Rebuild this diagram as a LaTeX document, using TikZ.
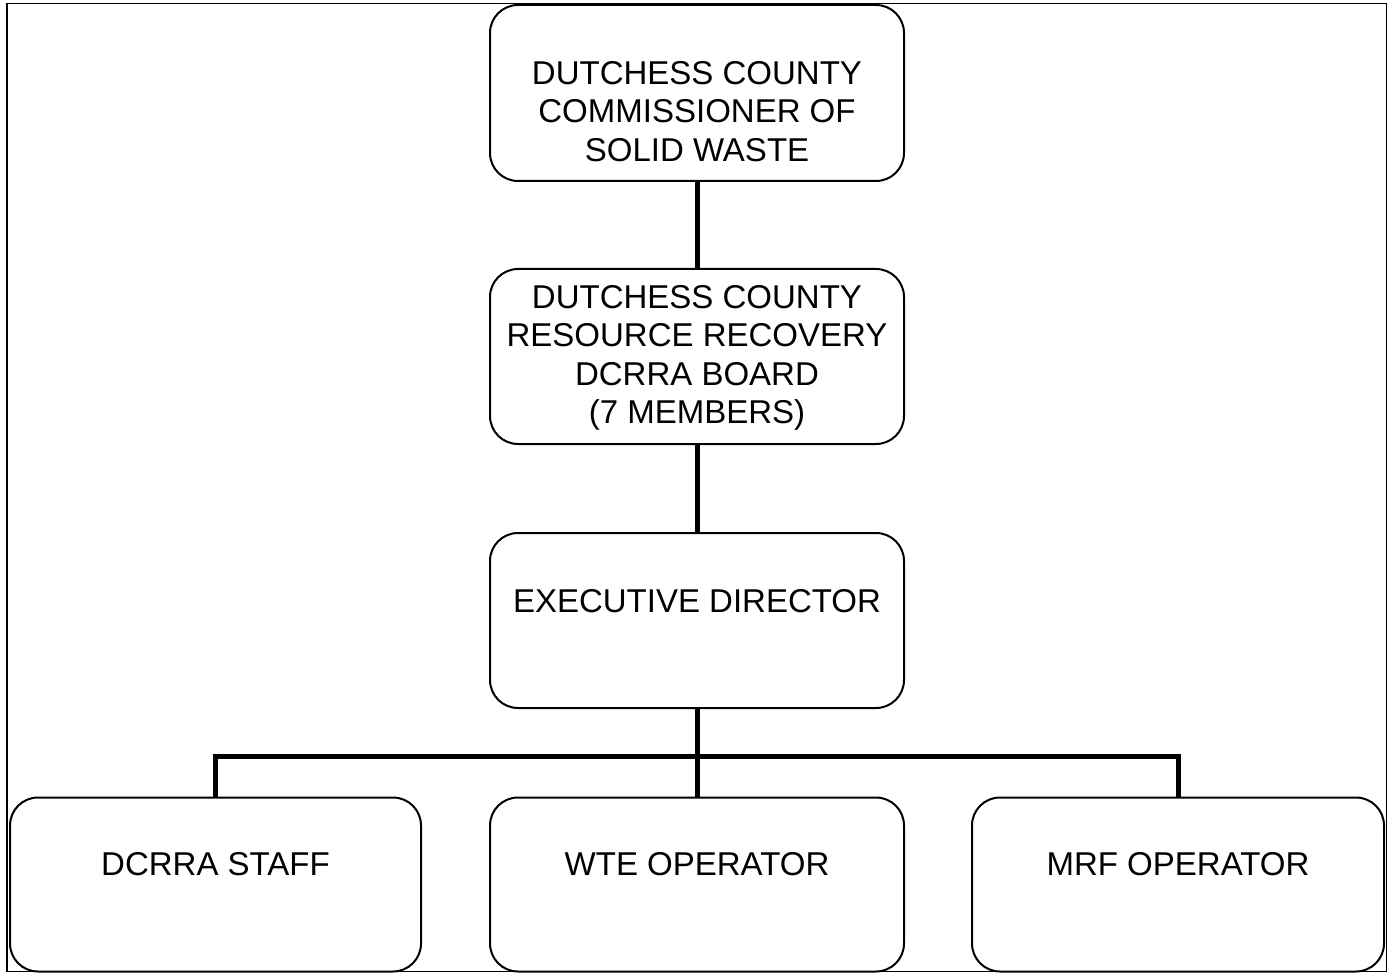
\documentclass[tikz,border=0pt]{standalone}
\usepackage{fontspec}
\setmainfont{Liberation Sans}
\begin{document}
\begin{tikzpicture}[x=1pt,y=-1pt,
  orgbox/.style={draw=black, line width=2pt, rounded corners=28pt, inner sep=0pt, fill=white},
  orgtext/.style={font=\fontsize{33}{38.5}\selectfont, align=center, inner sep=0pt},
  link/.style={line width=5pt, line join=miter}]
\useasboundingbox (0,0) rectangle (1395,973);
\fill[white] (0,0) rectangle (1395,973);
\draw[line width=1.5pt] (7,3.5) rectangle (1386.5,971.5);
% boxes
\node[orgbox, minimum width=414pt, minimum height=176pt] (b1) at (697,93) {};
\node[orgbox, minimum width=414pt, minimum height=175pt] (b2) at (697,356.5) {};
\node[orgbox, minimum width=414pt, minimum height=175pt] (b3) at (697,620.5) {};
\node[orgbox, minimum width=411pt, minimum height=174pt] (b4) at (215.5,884.5) {};
\node[orgbox, minimum width=414pt, minimum height=174pt] (b5) at (697,884.5) {};
\node[orgbox, minimum width=412pt, minimum height=174pt] (b6) at (1178,884.5) {};
% connectors
\draw[link] (b1.south) -- (b2.north);
\draw[link] (b2.south) -- (b3.north);
\draw[link] (b3.south) -- (b5.north);
\draw[link] (b4.north) -- ++(0,-40) -| (b6.north);
% texts
\node[orgtext] (t1) at (697,111.5) {DUTCHESS COUNTY\\COMMISSIONER OF\\SOLID WASTE};
\node[orgtext] (t2) at (697,358) {DUTCHESS COUNTY\\RESOURCE RECOVERY\\DCRRA BOARD\\(7 MEMBERS)};
\node[orgtext] (t3) at (697,601) {EXECUTIVE DIRECTOR};
\node[orgtext] (t4) at (215.5,864) {DCRRA STAFF};
\node[orgtext] (t5) at (697,864) {WTE OPERATOR};
\node[orgtext] (t6) at (1178,864) {MRF OPERATOR};
\end{tikzpicture}
\end{document}
